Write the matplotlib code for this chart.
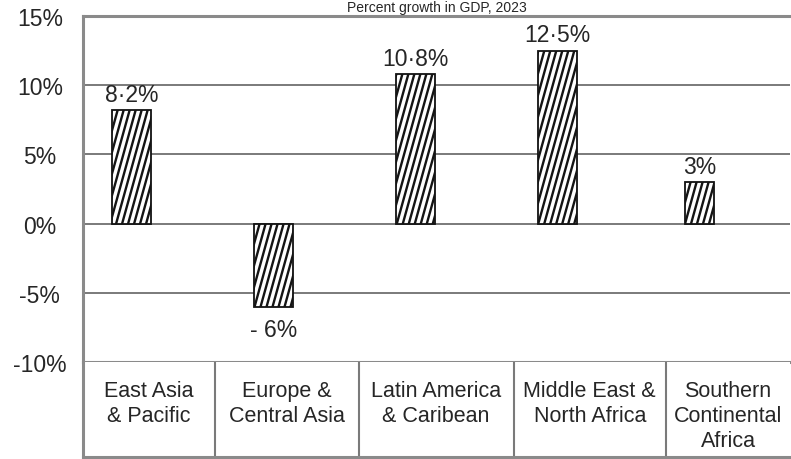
import numpy as np
import matplotlib
matplotlib.use("Agg")
import matplotlib.pyplot as plt
from matplotlib.lines import Line2D
from matplotlib.transforms import IdentityTransform

# data
regions = ["East Asia\n& Pacific", "Europe &\nCentral Asia", "Latin America\n& Caribean",
           "Middle East &\nNorth Africa", "Southern\nContinental\nAfrica"]
growth = [8.2, -6, 10.8, 12.5, 3]
value_labels = ["8·2%", "- 6%", "10·8%", "12·5%", "3%"]
yticks = [-10, -5, 0, 5, 10, 15]
ytick_labels = ["-10%", "-5%", "0%", "5%", "10%", "15%"]
title = "Percent growth in GDP, 2023"

# layout / style
bar_widths = [0.28, 0.28, 0.27, 0.27, 0.21]
cell_edges = [-0.342, 0.588, 1.60, 2.69, 3.764, 4.637]
frame_col = "#8a8a8a"
grid_col = "#7a7a7a"
txt_col = "#262626"

plt.rcParams["font.family"] = ["Liberation Sans", "DejaVu Sans"]

fig = plt.figure(figsize=(7.91, 4.60), dpi=100)
ax = fig.add_axes([0.1049, 0.2109, 0.8938, 0.7522])
axt = fig.add_axes([0.1049, 0.0043, 0.8938, 0.2066])

x = np.arange(len(regions))
bars = ax.bar(x, growth, width=bar_widths, color="white", edgecolor="#111111",
              linewidth=1.3, zorder=3)
ax.set_xlim(cell_edges[0], cell_edges[-1])
ax.set_ylim(-10, 15)

for g in [-5, 0, 5, 10]:
    ax.axhline(g, color=grid_col, lw=1.4, zorder=1)

ax.set_yticks(yticks)
ax.set_yticklabels(ytick_labels, fontsize=16.5, color=txt_col, ha="center")
ax.tick_params(axis="y", length=0, pad=31)
ax.set_xticks([])
for s in ["top", "left", "bottom"]:
    ax.spines[s].set_color(frame_col)
    ax.spines[s].set_linewidth(2.2)
ax.spines["right"].set_visible(False)

# steep hatch drawn by hand, clipped to each bar
for b in bars:
    (x0, y0), (x1, y1) = ax.transData.transform(
        [(b.get_x(), min(b.get_y(), b.get_y() + b.get_height())),
         (b.get_x() + b.get_width(), max(b.get_y(), b.get_y() + b.get_height()))])
    h = y1 - y0
    slope = 3.6
    k = x0 - h / slope
    while k < x1 + 2:
        ln = Line2D([k, k + h / slope], [y0, y1], transform=IdentityTransform(),
                    color="#141414", lw=1.7, zorder=4)
        ln.set_clip_path(b)
        fig.add_artist(ln)
        k += 6.0

# value labels
for xi, v, lab in zip(x, growth, value_labels):
    if v >= 0:
        ax.annotate(lab, (xi, v), xytext=(0, 3), textcoords="offset points",
                    ha="center", va="bottom", fontsize=16.5, color=txt_col)
    else:
        ax.annotate(lab, (xi, v), xytext=(0, -8), textcoords="offset points",
                    ha="center", va="top", fontsize=16.5, color=txt_col)

# category table underneath
axt.set_xlim(cell_edges[0], cell_edges[-1])
axt.set_ylim(0, 1)
axt.set_xticks([])
axt.set_yticks([])
for s in ["left", "bottom"]:
    axt.spines[s].set_color(frame_col)
    axt.spines[s].set_linewidth(2.2)
axt.spines["top"].set_visible(False)
axt.spines["right"].set_visible(False)
for e in cell_edges[1:-1]:
    axt.axvline(e, color=grid_col, lw=1.5)
for i, name in enumerate(regions):
    cx = (cell_edges[i] + cell_edges[i + 1]) / 2
    axt.text(cx, 0.81, name, ha="center", va="top", fontsize=15.5,
             color=txt_col, linespacing=1.25)

fig.text(0.552, 1 - 1 / 460, title, ha="center", va="top", fontsize=10,
         color=txt_col)

fig.savefig("out.png", dpi=100)
